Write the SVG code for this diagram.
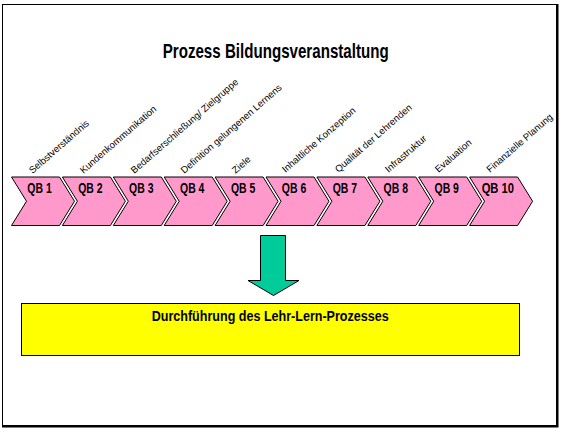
<svg xmlns="http://www.w3.org/2000/svg" xmlns:xlink="http://www.w3.org/1999/xlink" width="563" height="434" viewBox="0 0 563 434">
  <style>
    .frame { fill: #ffffff; stroke: #000000; stroke-width: 1; }
    .chev { fill: #FF99CC; stroke: #000000; stroke-width: 1; stroke-linejoin: miter; }
    .qb { font-family: "Liberation Sans", Arial, sans-serif; font-weight: bold; font-size: 14px; fill: #000000; text-anchor: middle; }
    .lbl { font-family: "Liberation Sans", Arial, sans-serif; font-size: 9.6px; fill: #000000; }
    .title { font-family: "Liberation Sans", Arial, sans-serif; font-weight: bold; font-size: 21px; fill: #000000; }
    .boxtxt { font-family: "Liberation Sans", Arial, sans-serif; font-weight: bold; font-size: 14px; fill: #000000; }
    .arrow { fill: #00CC99; stroke: #000000; stroke-width: 1; }
    .box { fill: #FFFF00; stroke: #000000; stroke-width: 1; }
  </style>
  <defs>
    <path id="chevShape" d="M0,177 H48 L63,201.25 L48,225.5 H0 L15,201.25 Z"/>
  </defs>

  <rect x="0" y="0" width="563" height="434" fill="#ffffff"/>
  <g id="frame">
    <rect class="frame" x="2.5" y="4.5" width="554" height="421"/>
    <path d="M557.5,4 V427.5 M2,426.5 H558.5" fill="none" stroke="#000000" stroke-width="2"/>
  </g>

  <g id="title">
    <text class="title" x="162.7" y="57.5" textLength="226" lengthAdjust="spacingAndGlyphs">Prozess Bildungsveranstaltung</text>
  </g>

  <g id="qb1">
    <use xlink:href="#chevShape" class="chev" transform="translate(11.5 0)"/>
    <text class="qb" x="39.5" y="193" textLength="24.4" lengthAdjust="spacingAndGlyphs">QB 1</text>
    <text class="lbl" transform="translate(32.5 174) rotate(-41)">Selbstverständnis</text>
  </g>
  <g id="qb2">
    <use xlink:href="#chevShape" class="chev" transform="translate(62.4 0)"/>
    <text class="qb" x="90.4" y="193" textLength="24.4" lengthAdjust="spacingAndGlyphs">QB 2</text>
    <text class="lbl" transform="translate(83.4 174) rotate(-41)">Kundenkommunikation</text>
  </g>
  <g id="qb3">
    <use xlink:href="#chevShape" class="chev" transform="translate(113.3 0)"/>
    <text class="qb" x="141.3" y="193" textLength="24.4" lengthAdjust="spacingAndGlyphs">QB 3</text>
    <text class="lbl" transform="translate(134.3 174) rotate(-41)">Bedarfserschließung/ Zielgruppe</text>
  </g>
  <g id="qb4">
    <use xlink:href="#chevShape" class="chev" transform="translate(164.2 0)"/>
    <text class="qb" x="192.2" y="193" textLength="24.4" lengthAdjust="spacingAndGlyphs">QB 4</text>
    <text class="lbl" transform="translate(184.2 174) rotate(-41)">Definition gelungenen Lernens</text>
  </g>
  <g id="qb5">
    <use xlink:href="#chevShape" class="chev" transform="translate(215.1 0)"/>
    <text class="qb" x="243.1" y="193" textLength="24.4" lengthAdjust="spacingAndGlyphs">QB 5</text>
    <text class="lbl" transform="translate(235.6 174) rotate(-41)">Ziele</text>
  </g>
  <g id="qb6">
    <use xlink:href="#chevShape" class="chev" transform="translate(266 0)"/>
    <text class="qb" x="294" y="193" textLength="24.4" lengthAdjust="spacingAndGlyphs">QB 6</text>
    <text class="lbl" transform="translate(285.5 173) rotate(-41)">Inhaltliche Konzeption</text>
  </g>
  <g id="qb7">
    <use xlink:href="#chevShape" class="chev" transform="translate(316.9 0)"/>
    <text class="qb" x="344.9" y="193" textLength="24.4" lengthAdjust="spacingAndGlyphs">QB 7</text>
    <text class="lbl" transform="translate(338.4 173) rotate(-41)">Qualität der Lehrenden</text>
  </g>
  <g id="qb8">
    <use xlink:href="#chevShape" class="chev" transform="translate(367.8 0)"/>
    <text class="qb" x="395.8" y="193" textLength="24.4" lengthAdjust="spacingAndGlyphs">QB 8</text>
    <text class="lbl" transform="translate(388.5 173) rotate(-41)">Infrastruktur</text>
  </g>
  <g id="qb9">
    <use xlink:href="#chevShape" class="chev" transform="translate(418.7 0)"/>
    <text class="qb" x="446.7" y="193" textLength="24.4" lengthAdjust="spacingAndGlyphs">QB 9</text>
    <text class="lbl" transform="translate(438.5 173) rotate(-41)">Evaluation</text>
  </g>
  <g id="qb10">
    <use xlink:href="#chevShape" class="chev" transform="translate(469.6 0)"/>
    <text class="qb" x="497.8" y="193" textLength="32.3" lengthAdjust="spacingAndGlyphs">QB 10</text>
    <text class="lbl" transform="translate(490 173) rotate(-41)">Finanzielle Planung</text>
  </g>

  <g id="connectors">
    <polygon class="arrow" points="260.5,235.5 285.5,235.5 285.5,280.5 299,280.5 273.5,295.5 248,280.5 260.5,280.5"/>
  </g>

  <g id="durchfuehrung">
    <rect class="box" x="21.5" y="303.5" width="498" height="52"/>
    <text class="boxtxt" x="151.7" y="321" textLength="237" lengthAdjust="spacingAndGlyphs">Durchführung des Lehr-Lern-Prozesses</text>
  </g>
</svg>
